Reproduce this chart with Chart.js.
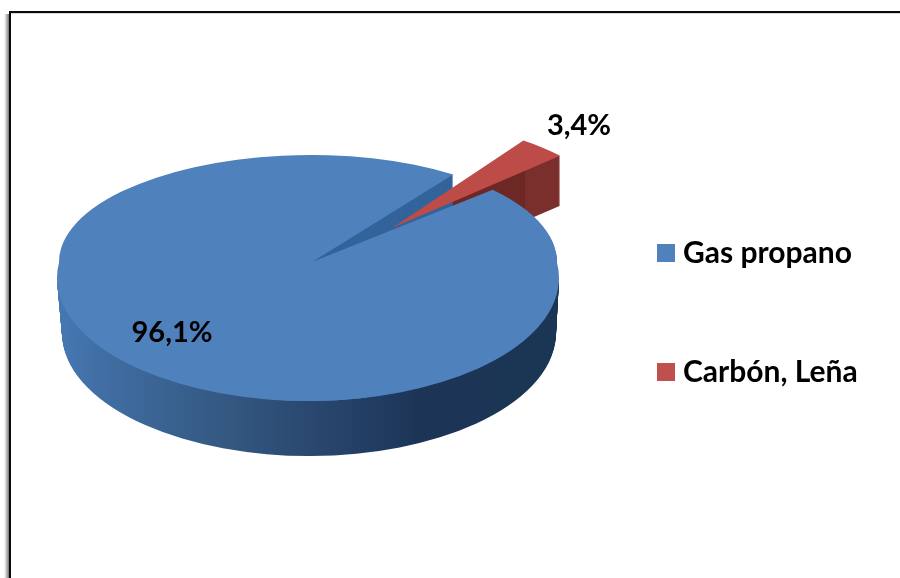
<!DOCTYPE html>
<html>
<head>
<meta charset="utf-8">
<style>html,body{margin:0;padding:0;background:#fff}canvas{display:block}</style>
<script src="https://cdn.jsdelivr.net/npm/chart.js@4"></script>
</head>
<body>
<canvas id="c" width="900" height="578"></canvas>
<script>
const categories = ['Gas propano', 'Carbón, Leña'];
const values = [96.1, 3.4];
const valueLabels = ['96,1%', '3,4%'];
const faceColors = ['#4f81bd', '#bd4b47'];
const legendColors = ['#4f81bd', '#c0504d'];

const FONT = 'Lato, Carlito, sans-serif';
const R = 251;
const APEX = {x: 312, y: 262};
const RED_APEX = {x: 392, y: 228};
const QUAD = {left: 253, right: 245, up: 107, down: 139};
const RED_RIGHT = 228;
const ELL = {x: 308, y: 278, rx: 251, ry: 123};
const LABEL_POS = [{x: 172, y: 333}, {x: 579, y: 126}];

function withColor(arc, color, ctx) {
  const saved = arc.options;
  arc.options = Object.assign({}, saved, {backgroundColor: color, borderWidth: 0, offset: 0});
  arc.draw(ctx);
  arc.options = saved;
}
function quadDraw(ctx, arc, color, dy, which, origin, right) {
  const o = origin || APEX;
  const cy = o.y + dy;
  const rx = right || QUAD.right;
  const qs = [
    {x0: -2000, x1: o.x, y0: -2000, y1: cy, sx: QUAD.left / R, sy: QUAD.up / R, name: 'ul'},
    {x0: o.x, x1: 2000, y0: -2000, y1: cy, sx: rx / R, sy: QUAD.up / R, name: 'ur'},
    {x0: -2000, x1: o.x, y0: cy, y1: 2000, sx: QUAD.left / R, sy: QUAD.down / R, name: 'll'},
    {x0: o.x, x1: 2000, y0: cy, y1: 2000, sx: rx / R, sy: QUAD.down / R, name: 'lr'}
  ];
  qs.forEach(q => {
    if (which && !which.includes(q.name)) return;
    ctx.save();
    ctx.beginPath();
    ctx.rect(q.x0, q.y0, q.x1 - q.x0, q.y1 - q.y0);
    ctx.clip();
    ctx.translate(o.x, cy);
    ctx.scale(q.sx, q.sy);
    ctx.translate(-arc.x, -arc.y);
    withColor(arc, typeof color === 'function' ? color(ctx, arc, q.sx) : color, ctx);
    ctx.restore();
  });
}
function ellipseDraw(ctx, arc, color, dy, shrink, shift, clipTop) {
  ctx.save();
  ctx.beginPath();
  ctx.rect(-2000, clipTop, 4000, 4000);
  ctx.clip();
  const sx = (ELL.rx - shrink) / R;
  ctx.translate(ELL.x + shift, ELL.y + dy);
  ctx.scale(sx, ELL.ry / R);
  ctx.translate(-arc.x, -arc.y);
  withColor(arc, typeof color === 'function' ? color(ctx, arc, sx, ELL.x + shift) : color, ctx);
  ctx.restore();
}
function blueWallGradient(ctx, arc, sx, originX) {
  const ox = originX === undefined ? APEX.x : originX;
  const toLocal = px => arc.x + (px - ox) / sx;
  const g = ctx.createLinearGradient(toLocal(57), 0, toLocal(559), 0);
  g.addColorStop(0, '#4678b2');
  g.addColorStop(0.12, '#3f6b9f');
  g.addColorStop(0.35, '#33577f');
  g.addColorStop(0.5, '#2a4870');
  g.addColorStop(0.72, '#1c3557');
  g.addColorStop(1, '#1b3554');
  return g;
}
function redWallGradient(ctx, arc, sx) {
  const toLocal = px => arc.x + (px - RED_APEX.x) / sx;
  const g = ctx.createLinearGradient(toLocal(390), 0, toLocal(565), 0);
  g.addColorStop(0, '#6d2725');
  g.addColorStop(0.77, '#6d2725');
  g.addColorStop(0.775, '#7b2f2c');
  g.addColorStop(1, '#7b2f2c');
  return g;
}

const frame3d = {
  id: 'frame3d',
  beforeDraw(chart) {
    const ctx = chart.ctx;
    ctx.save();
    const g = ctx.createLinearGradient(4, 0, 9, 0);
    g.addColorStop(0, 'rgba(120,120,120,0)');
    g.addColorStop(1, 'rgba(90,90,90,0.85)');
    ctx.fillStyle = g;
    ctx.fillRect(4, 14, 5, 564);
    ctx.fillStyle = '#d8d8d8';
    ctx.fillRect(11, 13, 889, 1);
    ctx.fillStyle = '#0a0a0a';
    ctx.fillRect(9, 11, 891, 2);
    ctx.fillRect(9, 11, 2, 567);
    ctx.restore();
  },
  afterLayout(chart) {
    const lg = chart.legend;
    const pad = lg.options.labels.padding;
    lg.left = 664 - pad;
    lg.right = 900;
    lg.top = 238 - pad;
    lg.bottom = 578;
  },
  beforeDatasetsDraw(chart) {
    const ctx = chart.ctx;
    const arcs = chart.getDatasetMeta(0).data;
    const blue = arcs[0], red = arcs[1];
    // side walls, deepest layer first
    for (let dy = 50; dy >= 1; dy--) quadDraw(ctx, red, redWallGradient, dy, ['ur'], RED_APEX, RED_RIGHT);
    for (let dy = 55; dy >= 1; dy--) quadDraw(ctx, blue, '#33649c', dy, ['ur']);
    for (let dy = 55; dy >= 1; dy--) {
      const t = dy / 55;
      ellipseDraw(ctx, blue, blueWallGradient, dy, 4 * t, 1 * t, APEX.y + 20);
    }
    // top faces
    quadDraw(ctx, blue, faceColors[0], 0);
    ellipseDraw(ctx, blue, faceColors[0], 0, 0, 0, APEX.y);
    quadDraw(ctx, red, faceColors[1], 0, ['ur'], RED_APEX, RED_RIGHT);
    // value labels
    ctx.save();
    ctx.font = 'bold 29px ' + FONT;
    ctx.fillStyle = '#000';
    ctx.textAlign = 'center';
    ctx.textBaseline = 'middle';
    valueLabels.forEach((t, i) => ctx.fillText(t, LABEL_POS[i].x, LABEL_POS[i].y));
    ctx.restore();
    return false;
  }
};

new Chart(document.getElementById('c'), {
  type: 'pie',
  data: {
    labels: categories,
    datasets: [{
      data: values,
      backgroundColor: faceColors,
      borderWidth: 0
    }]
  },
  plugins: [frame3d],
  options: {
    responsive: false,
    animation: false,
    rotation: 47.5,
    radius: R,
    plugins: {
      tooltip: {enabled: false},
      legend: {
        display: true,
        position: 'right',
        align: 'start',
        labels: {
          boxWidth: 4,
          boxHeight: 4,
          padding: 89,
          color: '#000',
          font: {family: FONT, size: 30, weight: 'bold'},
          generateLabels: () => categories.map((t, i) => ({
            text: t,
            fillStyle: legendColors[i],
            strokeStyle: legendColors[i],
            lineWidth: 14,
            index: i
          }))
        }
      }
    }
  }
});
</script>
</body>
</html>
